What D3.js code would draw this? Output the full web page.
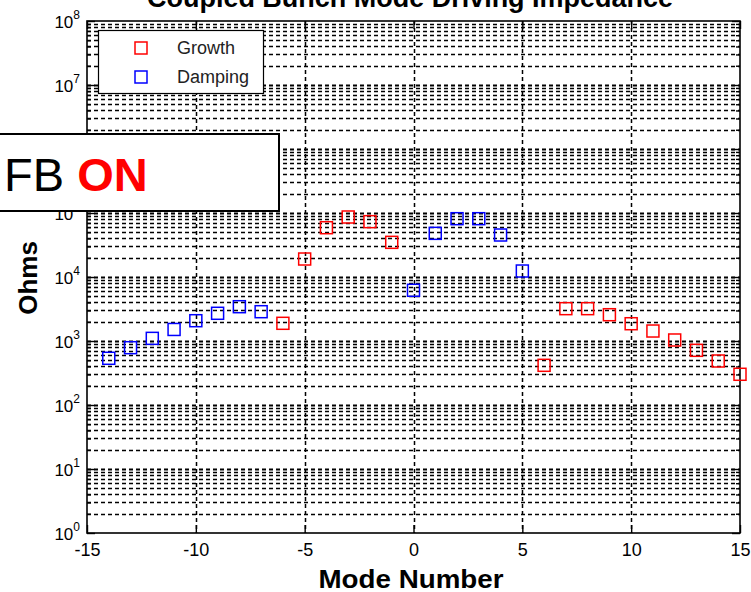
<!DOCTYPE html>
<html><head><meta charset="utf-8">
<script src="https://cdn.jsdelivr.net/npm/d3@7"></script>
<style>body{margin:0;background:#fff}svg{display:block}text{font-family:"Liberation Sans",Arial,sans-serif}</style>
</head><body>
<svg id="c" width="751" height="592"></svg>
<script>
const growthModes = [-6,-5,-4,-3,-2,-1,6,7,8,9,10,11,12,13,14,15];
const growthOhms  = [1890,19100,58900,86600,73200,34800,417,3200,3200,2575,1862,1432,1037,715,487,302];
const dampingModes = [-14,-13,-12,-11,-10,-9,-8,-7,0,1,2,3,4,5];
const dampingOhms  = [537,786,1100,1515,2075,2710,3435,2870,6200,48100,81500,81500,45300,12400];
const xTicks = [-15,-10,-5,0,5,10,15];
const yExps = [0,1,2,3,4,5,6,7,8];
const titleText = "Coupled Bunch Mode Driving Impedance";
const xLabel = "Mode Number", yLabel = "Ohms";
const legendLabels = ["Growth","Damping"];
const colors = ["#ff0000","#0000ff"];

const svg = d3.select("#c");
const L=87,R=740,T=21,B=533;
const x = d3.scaleLinear().domain([-15,15]).range([L,R]);
const y = d3.scaleLog().domain([1,1e8]).range([B,T]);
const majors = yExps.map(e=>Math.pow(10,e));
const minors = [];
for(let e=0;e<8;e++) for(let k=2;k<=9;k++) minors.push(k*Math.pow(10,e));

// grid
const grid = svg.append("g").attr("stroke","#000").attr("stroke-dasharray","4,3");
grid.selectAll("line.mn").data(minors).join("line").attr("x1",L).attr("x2",R)
  .attr("y1",d=>Math.round(y(d))+0.5).attr("y2",d=>Math.round(y(d))+0.5).attr("stroke-width",1.3);
grid.selectAll("line.mj").data(majors.slice(1,-1)).join("line").attr("x1",L).attr("x2",R)
  .attr("y1",d=>Math.round(y(d))+0.5).attr("y2",d=>Math.round(y(d))+0.5).attr("stroke-width",2.2);
grid.selectAll("line.v").data(xTicks.slice(1,-1)).join("line").attr("y1",T).attr("y2",B)
  .attr("x1",d=>Math.round(x(d))+0.5).attr("x2",d=>Math.round(x(d))+0.5).attr("stroke-width",1.5);

// axes
const axStyle = g=>{g.select(".domain").remove();g.selectAll(".tick line").attr("stroke","#000").attr("stroke-width",1.4);};
svg.append("g").attr("transform",`translate(0,${B})`)
  .call(d3.axisBottom(x).tickValues(xTicks).tickSize(-8).tickPadding(10).tickFormat(d=>d))
  .call(axStyle).call(g=>g.selectAll("text").attr("font-size",18).attr("fill","#000").attr("font-family","Liberation Sans, Arial"));
svg.append("g").attr("transform",`translate(0,${T})`)
  .call(d3.axisTop(x).tickValues(xTicks).tickSize(-8).tickFormat("")).call(axStyle);
const ya = svg.append("g").attr("transform",`translate(${L},0)`)
  .call(d3.axisLeft(y).tickValues(majors).tickSize(-8).tickPadding(7).tickFormat(()=> "10")).call(axStyle);
ya.selectAll(".tick text").attr("font-size",17).attr("fill","#000").attr("dy","0.36em").attr("font-family","Liberation Sans, Arial")
  .append("tspan").attr("dy","-0.75em").attr("font-size",12).text(d=>Math.round(Math.log10(d)));
svg.append("g").attr("transform",`translate(${L},0)`)
  .call(d3.axisLeft(y).tickValues(minors).tickSize(-4).tickFormat("")).call(axStyle);
svg.append("g").attr("transform",`translate(${R},0)`)
  .call(d3.axisRight(y).tickValues(majors).tickSize(-8).tickFormat("")).call(axStyle);
svg.append("g").attr("transform",`translate(${R},0)`)
  .call(d3.axisRight(y).tickValues(minors).tickSize(-4).tickFormat("")).call(axStyle);

svg.append("rect").attr("x",L).attr("y",T).attr("width",R-L).attr("height",B-T)
  .attr("fill","none").attr("stroke","#000").attr("stroke-width",1.6);

// markers
const sz=12;
function plot(modes,vals,col){
  svg.append("g").selectAll("rect").data(modes.map((m,i)=>[m,vals[i]])).join("rect")
    .attr("x",d=>x(d[0])-sz/2).attr("y",d=>y(d[1])-sz/2).attr("width",sz).attr("height",sz)
    .attr("fill","none").attr("stroke",col).attr("stroke-width",1.5);
}
plot(growthModes,growthOhms,colors[0]);
plot(dampingModes,dampingOhms,colors[1]);

// legend
const lg = svg.append("g");
lg.append("rect").attr("x",98.5).attr("y",30.5).attr("width",165).attr("height",63).attr("fill","#fff").attr("stroke","#000").attr("stroke-width",1.2);
legendLabels.forEach((t,i)=>{
  const cy = 48 + i*29;
  lg.append("rect").attr("x",141-6).attr("y",cy-6).attr("width",12).attr("height",12).attr("fill","none").attr("stroke",colors[i]).attr("stroke-width",1.5);
  lg.append("text").attr("x",177).attr("y",cy+6).attr("font-size",18).attr("fill","#222").text(t);
});

// labels
svg.append("text").attr("x",410).attr("y",7).attr("text-anchor","middle").attr("font-weight","bold")
  .attr("font-size",27).attr("textLength",526).attr("lengthAdjust","spacingAndGlyphs").text(titleText);
svg.append("text").attr("x",411).attr("y",588).attr("text-anchor","middle").attr("font-weight","bold")
  .attr("font-size",25).attr("textLength",185).attr("lengthAdjust","spacingAndGlyphs").text(xLabel);
svg.append("text").attr("transform","translate(37,278) rotate(-90)").attr("text-anchor","middle").attr("font-weight","bold")
  .attr("font-size",26).text(yLabel);

// FB ON box
svg.append("rect").attr("x",-2).attr("y",134).attr("width",281).attr("height",77).attr("fill","#fff").attr("stroke","#000").attr("stroke-width",2);
const fb = svg.append("text").attr("x",4).attr("y",191).attr("font-size",47);
fb.append("tspan").attr("fill","#000").text("FB ");
fb.append("tspan").attr("fill","#ff0000").attr("font-weight","bold").text("ON");
</script>
</body></html>
